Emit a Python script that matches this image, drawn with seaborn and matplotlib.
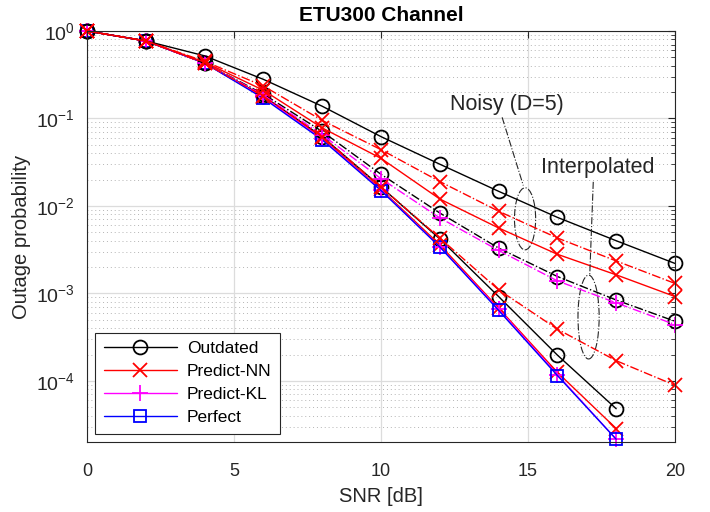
import numpy as np
import pandas as pd
import matplotlib
matplotlib.use("Agg")
import matplotlib.pyplot as plt
import seaborn as sns
from matplotlib.lines import Line2D
from matplotlib.patches import Ellipse
from matplotlib.ticker import LogLocator, NullFormatter

# ---------------- data ----------------
snr_db = [0, 2, 4, 6, 8, 10, 12, 14, 16, 18, 20]

# Noisy (D=5) group
noisy_outdated = [1.0, 0.77, 0.52, 0.28, 0.138, 0.062, 0.030, 0.0147, 0.0074, 0.0040, 0.0022]
noisy_nn_dashdot = [1.0, 0.77, 0.45, 0.235, 0.095, 0.044, 0.019, 0.0087, 0.0043, 0.00235, 0.0013]
noisy_nn_solid = [1.0, 0.77, 0.44, 0.21, 0.078, 0.035, 0.012, 0.0056, 0.0028, 0.00163, 0.00092]

# Interpolated group
interp_outdated = [1.0, 0.77, 0.43, 0.19, 0.071, 0.023, 0.0083, 0.0033, 0.00156, 0.00084, 0.00048]
interp_kl = [1.0, 0.77, 0.43, 0.185, 0.065, 0.0205, 0.0073, 0.0031, 0.00139, 0.00078, 0.00044]
interp_nn = [1.0, 0.77, 0.43, 0.18, 0.062, 0.0165, 0.0043, 0.0011, 0.00039, 0.00017, 0.000089]

# Ideal-estimation group (solid)
ideal_outdated = [1.0, 0.77, 0.43, 0.18, 0.062, 0.0165, 0.0042, 0.00092, 0.000197, 0.000048, np.nan]
ideal_nn = [1.0, 0.77, 0.43, 0.175, 0.060, 0.0155, 0.0036, 0.00068, 0.000125, 0.0000285, np.nan]
ideal_kl = [1.0, 0.77, 0.43, 0.175, 0.058, 0.0152, 0.0034, 0.00066, 0.000118, 0.0000215, np.nan]
perfect = [1.0, 0.77, 0.43, 0.17, 0.057, 0.0150, 0.0034, 0.00064, 0.000115, 0.0000215, np.nan]

legend_labels = ["Outdated", "Predict-NN", "Predict-KL", "Perfect"]
title_text = "ETU300 Channel"
xlabel_text = "SNR [dB]"
ylabel_text = "Outage probability"
x_ticks = [0, 5, 10, 15, 20]

# ---------------- style ----------------
sns.set_theme(style="white")
plt.rcParams["font.family"] = ["Liberation Sans", "DejaVu Sans"]
plt.rcParams["mathtext.fontset"] = "custom"
plt.rcParams["mathtext.rm"] = "Liberation Sans"
plt.rcParams["mathtext.it"] = "Liberation Sans:italic"
plt.rcParams["mathtext.bf"] = "Liberation Sans:bold"

BLACK = "#000000"
RED = "#ff0000"
MAGENTA = "#ff00ff"
BLUE = "#0000ff"

fig = plt.figure(figsize=(7.1, 5.12), dpi=100)
ax = fig.add_axes([87 / 710, 1 - 442 / 512, (675 - 87) / 710, (442 - 31) / 512])

LW = 1.0
MS = 10


def draw(vals, color, marker, ls, ms=MS):
    df = pd.DataFrame({"snr": snr_db, "p": vals}).dropna()
    sns.lineplot(data=df, x="snr", y="p", ax=ax, color=color, linestyle=ls,
                 linewidth=LW, marker=marker, markersize=ms,
                 markerfacecolor="none", markeredgecolor=color,
                 markeredgewidth=1.3, legend=False, clip_on=False)


# lower (ideal) group
draw(ideal_outdated, BLACK, "o", "-")
draw(ideal_nn, RED, "x", "-")
draw(ideal_kl, MAGENTA, "+", "-", ms=11)
draw(perfect, BLUE, "s", "-", ms=9)
# interpolated group
draw(interp_outdated, BLACK, "o", "-.")
draw(interp_kl, MAGENTA, "+", "-.", ms=11)
draw(interp_nn, RED, "x", "-.")
# noisy group
draw(noisy_outdated, BLACK, "o", "-")
draw(noisy_nn_dashdot, RED, "x", "-.")
draw(noisy_nn_solid, RED, "x", "-")

ax.set_yscale("log")
ax.set_xlim(0, 20)
ax.set_ylim(2e-5, 1)
ax.set_xticks(x_ticks)
ax.set_xticklabels([str(t) for t in x_ticks])
ax.yaxis.set_major_locator(LogLocator(base=10, numticks=10))
ax.yaxis.set_minor_locator(LogLocator(base=10, subs=np.arange(2, 10), numticks=20))
ax.yaxis.set_minor_formatter(NullFormatter())

ax.grid(True, which="major", color="#dcdcdc", linewidth=0.9, linestyle="-")
ax.grid(True, which="minor", axis="y", color="#b4b4b4", linewidth=0.7, linestyle=(0, (1, 3)))
ax.set_axisbelow(True)

for sp in ax.spines.values():
    sp.set_color("#262626")
    sp.set_linewidth(0.8)
ax.tick_params(which="both", direction="in", top=True, right=True, colors="#262626",
               labelcolor="#262626")
ax.tick_params(which="major", length=5, width=0.8)
ax.tick_params(axis="x", which="major", labelsize=13, pad=15)
ax.tick_params(axis="y", which="major", labelsize=14, pad=9)
ax.tick_params(which="minor", length=3, width=0.6)
ax.tick_params(axis="x", which="minor", top=False, bottom=False)

ax.set_title(title_text, fontsize=15, fontweight="bold", color="#000000", pad=7)
ax.set_xlabel(xlabel_text, fontsize=14.5, color="#262626", labelpad=5)
ax.set_ylabel(ylabel_text, fontsize=14.5, color="#262626", labelpad=3)

# annotations
ax.text(0.714, 0.82, "Noisy (D=5)", transform=ax.transAxes, fontsize=15.5,
        ha="center", va="center", color="#262626")
ax.plot([0.706, 0.742], [0.790, 0.624], transform=ax.transAxes, color="#262626",
        linestyle="-.", linewidth=0.8)
ax.add_patch(Ellipse((0.745, 0.543), 0.036, 0.151, transform=ax.transAxes,
                     fill=False, edgecolor="#262626", linestyle="-.", linewidth=0.8))

ax.text(0.869, 0.669, "Interpolated", transform=ax.transAxes, fontsize=15.5,
        ha="center", va="center", color="#262626")
ax.plot([0.861, 0.855], [0.633, 0.406], transform=ax.transAxes, color="#262626",
        linestyle="-.", linewidth=0.8)
ax.add_patch(Ellipse((0.853, 0.304), 0.036, 0.204, transform=ax.transAxes,
                     fill=False, edgecolor="#262626", linestyle="-.", linewidth=0.8))

# legend
handles = [
    Line2D([], [], color=BLACK, marker="o", linestyle="-", linewidth=LW, markersize=MS,
           markerfacecolor="none", markeredgewidth=1.3),
    Line2D([], [], color=RED, marker="x", linestyle="-", linewidth=LW, markersize=MS,
           markeredgewidth=1.3),
    Line2D([], [], color=MAGENTA, marker="+", linestyle="-", linewidth=LW, markersize=11,
           markeredgewidth=1.3),
    Line2D([], [], color=BLUE, marker="s", linestyle="-", linewidth=LW, markersize=9,
           markerfacecolor="none", markeredgewidth=1.3),
]
leg = ax.legend(handles, legend_labels, loc="lower left", bbox_to_anchor=(0.0136, 0.0195),
                fontsize=12.5, frameon=True, fancybox=False, edgecolor="#262626",
                framealpha=1.0, handlelength=4.2, handletextpad=0.6, labelspacing=0.45,
                borderpad=0.5, borderaxespad=0.0)
leg.get_frame().set_linewidth(0.8)
leg.set_zorder(5)
for t in leg.get_texts():
    t.set_color("#000000")

fig.savefig("out.png", dpi=100)
